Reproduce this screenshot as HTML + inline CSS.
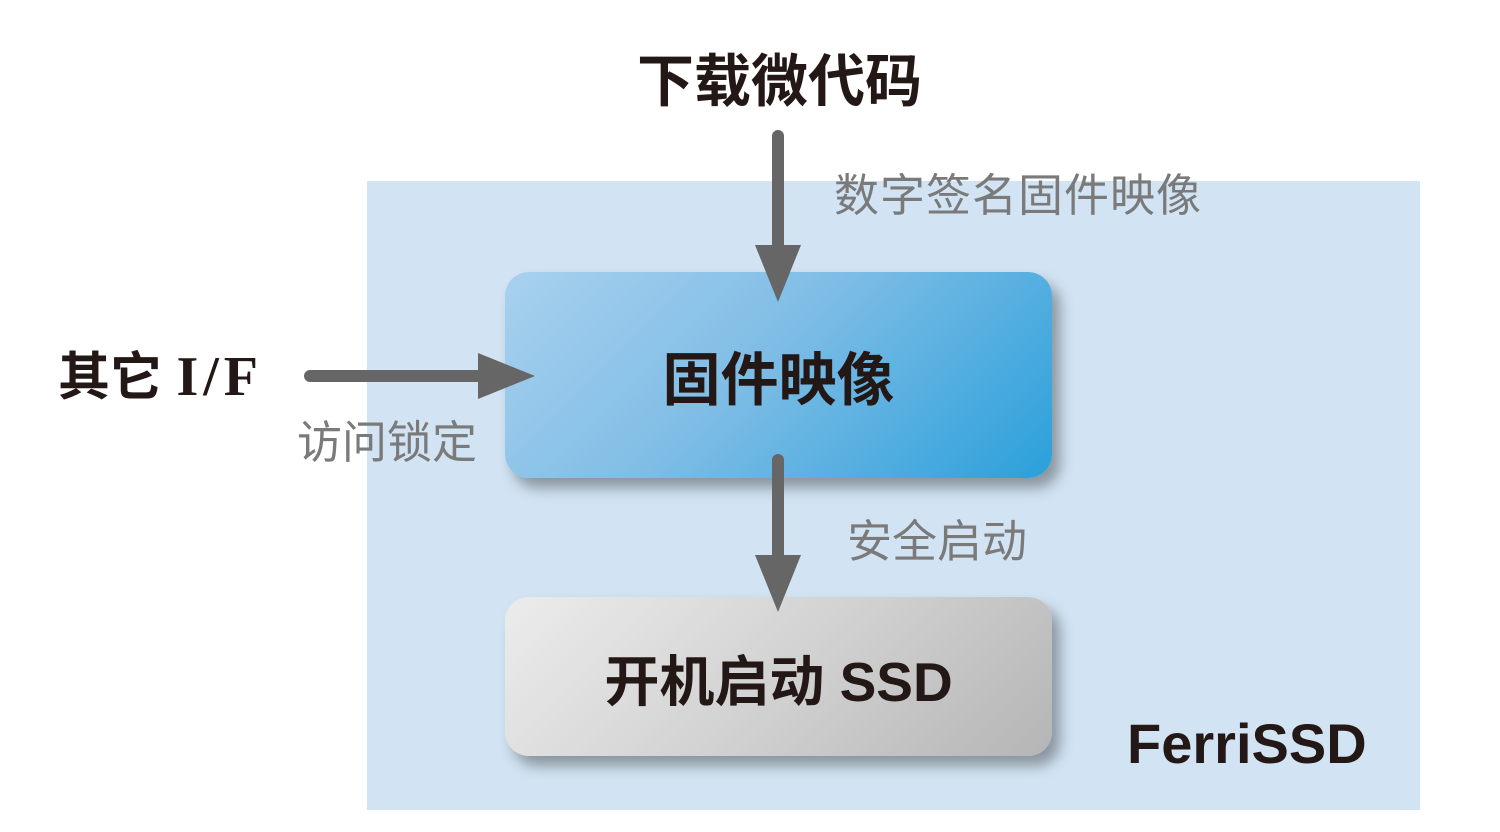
<!DOCTYPE html>
<html><head><meta charset="utf-8"><style>
body{margin:0;width:1500px;height:832px;background:#fff;position:relative;overflow:hidden;font-family:"Liberation Sans","Noto Sans CJK SC",sans-serif}
.a{position:absolute;white-space:nowrap;line-height:1}
.bg{position:absolute;left:367px;top:181px;width:1053px;height:629px;background:#d2e4f3}
.box{position:absolute;left:505px;width:547px;border-radius:24px;box-shadow:8px 10px 14px rgba(0,0,0,0.35);display:flex;align-items:center;justify-content:center;font-weight:bold;color:#231815}
.b1{top:272px;height:206px;background:linear-gradient(135deg,#a9d1ee 0%,#7fbde6 45%,#2aa0da 100%);font-size:58px}
.b2{top:597px;height:159px;background:linear-gradient(135deg,#ececec 0%,#d2d2d2 50%,#b5b5b5 100%);font-size:55px}
.g{color:#7a7a7a;font-size:45px}
.k{color:#231815;font-weight:bold}
</style></head><body>
<div class="bg"></div>
<div class="box b1">固件映像</div>
<div class="box b2">开机启动 SSD</div>
<svg class="a" style="left:0;top:0" width="1500" height="832">
<g fill="#666" stroke="#666" stroke-linecap="round">
<line x1="778" y1="136" x2="778" y2="250" stroke-width="12"/>
<polygon points="755,245 801,245 778,302" stroke="none"/>
<line x1="310" y1="376" x2="482" y2="376" stroke-width="12"/>
<polygon points="478,353 478,399 535,376" stroke="none"/>
<line x1="778" y1="460" x2="778" y2="560" stroke-width="12"/>
<polygon points="755,555 801,555 778,612" stroke="none"/>
</g></svg>
<div class="a k" style="left:637px;top:54px;font-size:57px">下载微代码</div>
<div class="a g" style="left:834px;top:173px;letter-spacing:1px">数字签名固件映像</div>
<div class="a k" style="left:58px;top:349px;font-size:52px">其它 <span style="font-family:'Liberation Serif',serif;letter-spacing:5px;font-size:56px">I/F</span></div>
<div class="a g" style="left:297px;top:420px">访问锁定</div>
<div class="a g" style="left:847px;top:519px">安全启动</div>
<div class="a k" style="left:1127px;top:716px;font-size:56px">FerriSSD</div>
</body></html>
